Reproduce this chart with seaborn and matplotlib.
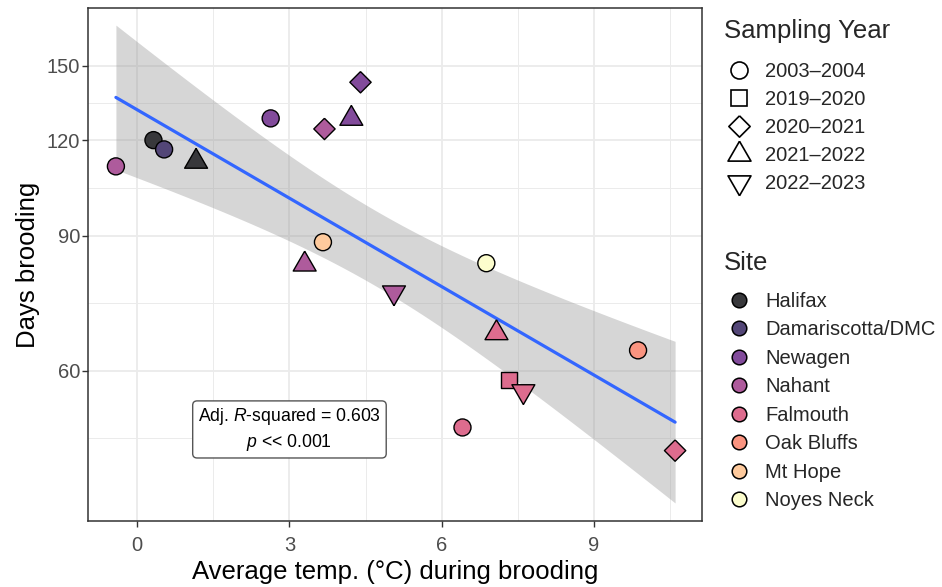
import numpy as np
import pandas as pd
import matplotlib
matplotlib.use("Agg")
import matplotlib.pyplot as plt
import seaborn as sns
from matplotlib.lines import Line2D
from matplotlib.ticker import FixedLocator, FixedFormatter, NullFormatter

# ---------------- data ----------------
site_order = ["Halifax", "Damariscotta/DMC", "Newagen", "Nahant", "Falmouth",
              "Oak Bluffs", "Mt Hope", "Noyes Neck"]
year_order = ["2003\u20132004", "2019\u20132020", "2020\u20132021",
              "2021\u20132022", "2022\u20132023"]

sites = ["Nahant", "Halifax", "Damariscotta/DMC", "Newagen", "Mt Hope", "Noyes Neck",
         "Falmouth", "Oak Bluffs",
         "Falmouth",
         "Nahant", "Newagen", "Falmouth",
         "Halifax", "Newagen", "Nahant", "Falmouth",
         "Nahant", "Falmouth"]
years = ["2003\u20132004"] * 8 + ["2019\u20132020"] + ["2020\u20132021"] * 3 + \
        ["2021\u20132022"] * 4 + ["2022\u20132023"] * 2
temp = [-0.42, 0.32, 0.53, 2.63, 3.66, 6.88, 6.41, 9.87,
        7.33,
        3.69, 4.40, 10.60,
        1.16, 4.22, 3.30, 7.08,
        5.06, 7.61]
days = [110.9, 120.0, 116.7, 128.1, 88.3, 82.9, 50.6, 63.8,
        58.3,
        124.1, 142.8, 47.2,
        112.5, 128.0, 82.6, 67.2,
        75.9, 56.4]

x_major = [0, 3, 6, 9]
y_major = [60, 90, 120, 150]
x_limits = (-0.97, 11.13)
y_limits = (38.2, 178.5)
annot_lines = ["Adj. $\\mathit{R}$-squared = 0.603", "$\\mathit{p}$ << 0.001"]
annot_pos = (3.0, 50.3)

# ---------------- style ----------------
sns.set_theme(style="white")
plt.rcParams["font.family"] = ["Liberation Sans", "DejaVu Sans"]
plt.rcParams["mathtext.fontset"] = "custom"
plt.rcParams["mathtext.rm"] = "Liberation Sans"
plt.rcParams["mathtext.it"] = "Liberation Sans:italic"

cmap = matplotlib.colormaps["magma"]
alpha = 0.78
pal = {}
for i, s in enumerate(site_order):
    r, g, b, _ = cmap(i / (len(site_order) - 1))
    pal[s] = (alpha * r + 1 - alpha, alpha * g + 1 - alpha, alpha * b + 1 - alpha)

tri_up = [(0, 1), (-0.866, -0.5), (0.866, -0.5), (0, 1)]
tri_dn = [(0, -1), (0.866, 0.5), (-0.866, 0.5), (0, -1)]
diamond = [(0, 1), (1, 0), (0, -1), (-1, 0), (0, 1)]
markers = {year_order[0]: "o", year_order[1]: "s", year_order[2]: diamond,
           year_order[3]: tri_up, year_order[4]: tri_dn}
base_s = 150.0
msize = {year_order[0]: base_s, year_order[1]: base_s * 0.785,
         year_order[2]: base_s * 1.57, year_order[3]: base_s * 2.42,
         year_order[4]: base_s * 2.42}

df = pd.DataFrame({"site": sites, "year": years, "temp": temp, "days": days})

fig = plt.figure(figsize=(9.42, 5.87), dpi=100)
ax = fig.add_axes([88 / 942, 1 - 521 / 587, (702 - 88) / 942, (521 - 8) / 587])
ax.set_yscale("log")

# ---------------- regression (lm on log scale) ----------------
lx = df["temp"].to_numpy()
ly = np.log(df["days"].to_numpy())
n = len(lx)
X = np.column_stack([np.ones(n), lx])
beta = np.linalg.lstsq(X, ly, rcond=None)[0]
resid = ly - X @ beta
s2 = resid @ resid / (n - 2)
cov = s2 * np.linalg.inv(X.T @ X)
xg = np.linspace(lx.min(), lx.max(), 100)
Xg = np.column_stack([np.ones_like(xg), xg])
se = np.sqrt(np.einsum("ij,jk,ik->i", Xg, cov, Xg))
try:
    from scipy import stats
    tq = stats.t.ppf(0.975, n - 2)
except Exception:
    tq = 2.1199
fit = Xg @ beta
ax.fill_between(xg, np.exp(fit - tq * se), np.exp(fit + tq * se),
                color="#999999", alpha=0.4, lw=0, zorder=1)
sns.lineplot(x=xg, y=np.exp(fit), color="#3366FF", lw=2.3, ax=ax, zorder=2)

# ---------------- points ----------------
for yr in year_order:
    sub = df[df["year"] == yr]
    sns.scatterplot(data=sub, x="temp", y="days", hue="site", hue_order=site_order,
                    palette=pal, marker=markers[yr], s=msize[yr], edgecolor="black",
                    linewidth=1.0, legend=False, ax=ax, zorder=3)

# ---------------- axes ----------------
ax.set_xlim(*x_limits)
ax.set_ylim(*y_limits)
ax.xaxis.set_major_locator(FixedLocator(x_major))
step_x = x_major[1] - x_major[0]
x_minor = [x_major[0] - step_x / 2] + [v + step_x / 2 for v in x_major]
ax.xaxis.set_minor_locator(FixedLocator(x_minor))
ax.yaxis.set_major_locator(FixedLocator(y_major))
ax.yaxis.set_major_formatter(FixedFormatter([str(v) for v in y_major]))
lm = np.log(y_major)
st = lm[1] - lm[0]
ext = np.r_[lm[0] - st, lm, lm[-1] + st]
ax.yaxis.set_minor_locator(FixedLocator(np.exp((ext[:-1] + ext[1:]) / 2)))
ax.yaxis.set_minor_formatter(NullFormatter())

ax.grid(True, which="major", color="#ebebeb", lw=1.3)
ax.grid(True, which="minor", color="#ebebeb", lw=0.7)
ax.set_axisbelow(True)
for sp in ax.spines.values():
    sp.set_color("#333333")
    sp.set_linewidth(1.1)
ax.tick_params(which="major", length=4, width=1.0, color="#333333",
               labelsize=14.5, labelcolor="#4d4d4d", left=True, bottom=True)
ax.tick_params(axis="x", which="major", pad=6.5)
ax.tick_params(axis="y", which="major", pad=1.5)
ax.tick_params(which="minor", length=0)
ax.set_xlabel("Average temp. (\u00b0C) during brooding", fontsize=18.5, color="black", labelpad=4)
ax.set_ylabel("Days brooding", fontsize=18.5, color="black", labelpad=5)

ax.text(annot_pos[0], annot_pos[1], "\n".join(annot_lines), ha="center", va="center",
        fontsize=12.7, color="black", zorder=4, linespacing=1.3,
        bbox=dict(boxstyle="round,pad=0.3,rounding_size=0.25", fc="white",
                  ec="#555555", lw=1.0))

# ---------------- legends ----------------
leg_fs = 14.5
H = 587.0
fig.text(724 / 942, 1 - 31 / H, "Sampling Year", fontsize=18.5, ha="left", va="center")
fig.text(724 / 942, 1 - 263 / H, "Site", fontsize=18.5, ha="left", va="center")

yh = [Line2D([], [], ls="", marker=markers[yr], markersize=np.sqrt(msize[yr]),
             mfc="white", mec="black", mew=1.2) for yr in year_order]
sh = [Line2D([], [], ls="", marker="o", markersize=10.5, mfc=pal[s], mec="black",
             mew=1.1) for s in site_order]
common = dict(loc="upper left", bbox_transform=fig.transFigure, frameon=False,
              fontsize=leg_fs, handlelength=1.5, handletextpad=0.55,
              borderpad=0, borderaxespad=0)
leg1 = ax.legend(yh, year_order, bbox_to_anchor=(724 / 942, 1 - 62 / H),
                 labelspacing=0.45, **common)
ax.add_artist(leg1)
leg2 = ax.legend(sh, site_order, bbox_to_anchor=(724 / 942, 1 - 292 / H),
                 labelspacing=0.47, **common)

fig.savefig("out.png", dpi=100)
